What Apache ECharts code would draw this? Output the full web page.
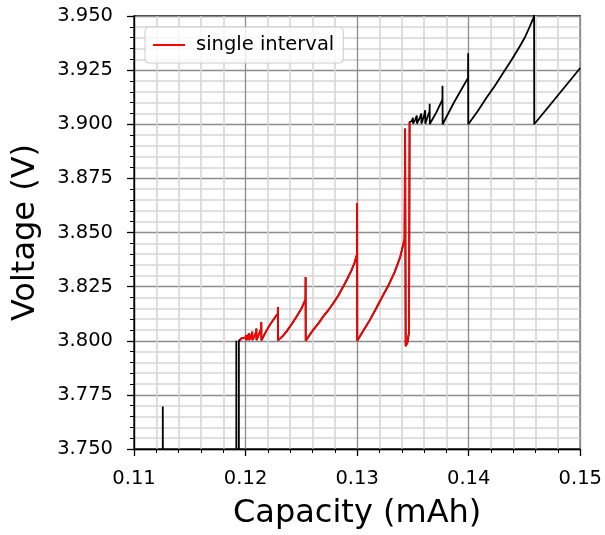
<!DOCTYPE html>
<html>
<head>
<meta charset="utf-8">
<script src="https://cdn.jsdelivr.net/npm/echarts/dist/echarts.min.js"></script>
<style>
  html, body { margin: 0; padding: 0; background: #ffffff; }
  #chart { width: 605px; height: 535px; }
</style>
</head>
<body>
<div id="chart"></div>
<script>
// Recorded charge curve before the highlighted interval (mAh, V)
const preCapacity = [0.11258, 0.11258, 0.11259, 0.11917, 0.11917, 0.11918, 0.11940, 0.11940, 0.11950];
const preVoltage  = [3.7400, 3.7696, 3.7400, 3.7400, 3.8000, 3.7400, 3.7400, 3.8000, 3.8000];

// The single interval, drawn in red
const intervalCapacity = [
  0.11950, 0.11965, 0.11976, 0.11977, 0.11995, 0.12006, 0.12007, 0.12020, 0.12030, 0.12031,
  0.12048, 0.12060, 0.12061, 0.12080, 0.12096, 0.12097, 0.12098, 0.12120, 0.12140, 0.12141,
  0.12142, 0.12180, 0.12220, 0.12260, 0.12289, 0.12290, 0.12291, 0.12330, 0.12365, 0.12410,
  0.12455, 0.12500, 0.12537, 0.12538, 0.12539, 0.12570, 0.12604, 0.12650, 0.12693, 0.12740,
  0.12783, 0.12830, 0.12873, 0.12910, 0.12948, 0.12975, 0.12999, 0.13000, 0.13001, 0.13055,
  0.13112, 0.13170, 0.13231, 0.13285, 0.13336, 0.13385, 0.13425, 0.13430, 0.13435, 0.13450,
  0.13465, 0.13470
];
const intervalVoltage = [
  3.8000, 3.8012, 3.8020, 3.8003, 3.8012, 3.8025, 3.8003, 3.8015, 3.8035, 3.8003,
  3.8018, 3.8042, 3.8003, 3.8022, 3.8040, 3.8057, 3.8003, 3.8030, 3.8055, 3.8087,
  3.8002, 3.8040, 3.8075, 3.8105, 3.8125, 3.8156, 3.8002, 3.8020, 3.8041, 3.8074,
  3.8110, 3.8148, 3.8190, 3.8295, 3.8000, 3.8023, 3.8049, 3.8078, 3.8110, 3.8140,
  3.8171, 3.8208, 3.8248, 3.8284, 3.8324, 3.8358, 3.8400, 3.8636, 3.8000, 3.8046,
  3.8094, 3.8149, 3.8209, 3.8260, 3.8317, 3.8385, 3.8470, 3.8980, 3.7975, 3.7990,
  3.8040, 3.9010
];

// Recorded charge curve after the interval
const postCapacity = [
  0.13470, 0.13490, 0.13500, 0.13501, 0.13520, 0.13535, 0.13536, 0.13560, 0.13575, 0.13576,
  0.13600, 0.13610, 0.13611, 0.13635, 0.13649, 0.13650, 0.13651, 0.13710, 0.13764, 0.13765,
  0.13766, 0.13865, 0.13994, 0.13995, 0.13996, 0.14080, 0.14159, 0.14235, 0.14308, 0.14385,
  0.14457, 0.14505, 0.14547, 0.14585, 0.14586, 0.14587, 0.15000
];
const postVoltage = [
  3.9010, 3.9015, 3.9030, 3.9003, 3.9020, 3.9040, 3.9003, 3.9028, 3.9050, 3.9003,
  3.9040, 3.9065, 3.9002, 3.9040, 3.9060, 3.9095, 3.9001, 3.9055, 3.9114, 3.9178,
  3.9000, 3.9098, 3.9214, 3.9328, 3.9000, 3.9060, 3.9122, 3.9178, 3.9237, 3.9298,
  3.9359, 3.9403, 3.9451, 3.9497, 3.9560, 3.9000, 3.9260
];

// Axis ranges and tick steps
const xTicks = { min: 0.11, max: 0.15, step: 0.01 };
const yTicks = { min: 3.75, max: 3.95, step: 0.025 };

const pairs = (xs, ys) => xs.map((x, i) => [x, ys[i]]);
const fullRecord = pairs(preCapacity, preVoltage)
  .concat(pairs(intervalCapacity, intervalVoltage))
  .concat(pairs(postCapacity, postVoltage));
const singleInterval = pairs(intervalCapacity, intervalVoltage);

const FONT = 'DejaVu Sans';
const chart = echarts.init(document.getElementById('chart'), null, { renderer: 'canvas' });

const axisCommon = {
  type: 'value',
  axisLine: { show: true, onZero: false, lineStyle: { color: '#000', width: 1.3 } },
  axisTick: { show: true, inside: false, length: 7, lineStyle: { color: '#000', width: 1.3 } },
  minorTick: { show: true, splitNumber: 5, length: 4, lineStyle: { color: '#000', width: 1 } },
  splitLine: { show: true, lineStyle: { color: '#8c8c8c', width: 1.3 } },
  minorSplitLine: { show: true, lineStyle: { color: '#d6d6d6', width: 1.6 } },
  nameLocation: 'middle',
  nameTextStyle: { fontFamily: FONT, fontSize: 32, color: '#000' }
};

chart.setOption({
  animation: false,
  backgroundColor: '#ffffff',
  grid: {
    left: 134, right: 24, top: 16, bottom: 84,
    show: true, borderColor: '#000', borderWidth: 1.3, backgroundColor: 'transparent'
  },
  legend: {
    data: ['single interval'],
    left: 145, top: 27,
    icon: 'rect', itemWidth: 32, itemHeight: 2,
    padding: [7, 9, 7, 8],
    backgroundColor: 'rgba(255,255,255,0.8)',
    borderColor: '#cccccc', borderWidth: 1, borderRadius: 4,
    textStyle: { fontFamily: FONT, fontSize: 19.5, color: '#000', padding: [0, 0, 0, 6], lineHeight: 22 }
  },
  xAxis: Object.assign({}, axisCommon, {
    min: xTicks.min, max: xTicks.max, interval: xTicks.step,
    name: 'Capacity (mAh)', nameGap: 49,
    axisLabel: {
      fontFamily: FONT, fontSize: 19.5, color: '#000', margin: 20,
      formatter: v => v.toFixed(2)
    }
  }),
  yAxis: Object.assign({}, axisCommon, {
    min: yTicks.min, max: yTicks.max, interval: yTicks.step,
    name: 'Voltage (V)', nameGap: 92, nameRotate: 90,
    axisLabel: {
      fontFamily: FONT, fontSize: 19.5, color: '#000', margin: 21,
      formatter: v => v.toFixed(3)
    }
  }),
  series: [
    {
      name: 'full record', type: 'line', data: fullRecord,
      showSymbol: false, clip: true, color: '#000',
      lineStyle: { color: '#000', width: 1.8 }, z: 3
    },
    {
      name: 'single interval', type: 'line', data: singleInterval,
      showSymbol: false, clip: true, color: '#ff0000',
      lineStyle: { color: '#ff0000', width: 1.8 }, z: 4
    }
  ]
});
</script>
</body>
</html>
